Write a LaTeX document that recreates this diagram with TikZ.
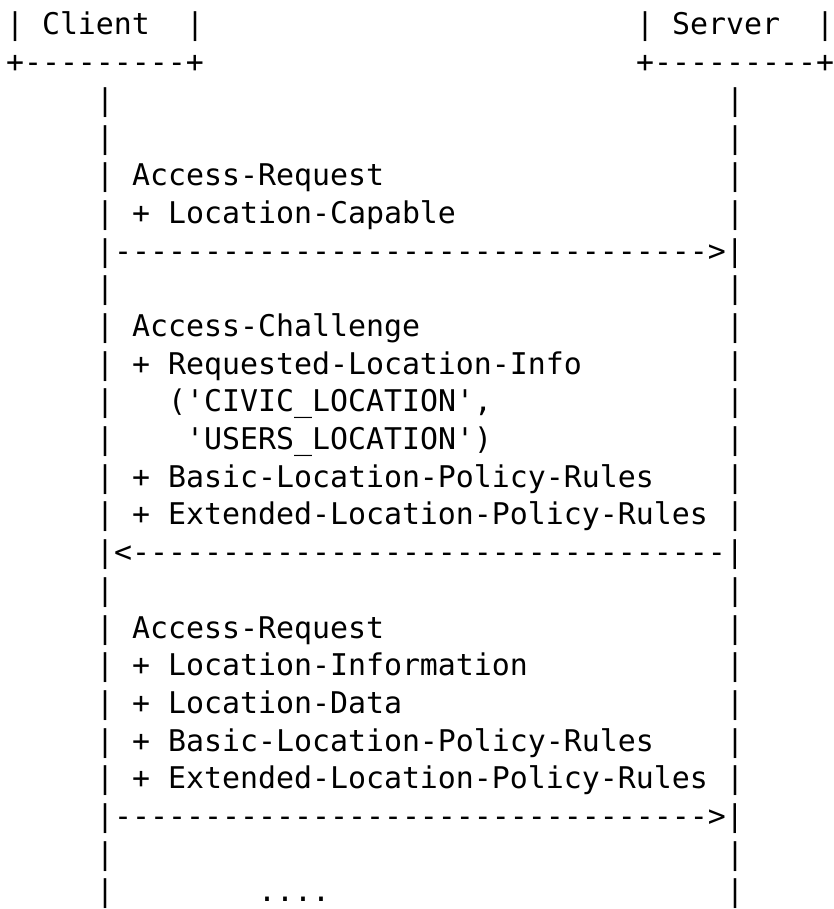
\documentclass[tikz,border=0pt]{standalone}
\usepackage{fontspec}
\setmonofont{DejaVu Sans Mono}
\tikzset{
  asc/.style={anchor=base west, inner sep=0pt, outer sep=0pt, text=black,
              font=\ttfamily\fontsize{29.9}{37.69}\selectfont}
}
% #1 name, #2 row, #3 column, #4 text
\newcommand\ascline[4]{\node[asc] (#1) at ({6+18*#3},{35+37.69*(#2-1)}) {#4};}
\begin{document}
\begin{tikzpicture}[x=1pt,y=-1pt]
\useasboundingbox[fill=white] (0,0) rectangle (834,909);
% header boxes
\ascline{cl1}{1}{0}{| Client}
\ascline{cl2}{1}{10}{|}
\ascline{sv1}{1}{35}{| Server}
\ascline{sv2}{1}{45}{|}
\ascline{clb}{2}{0}{+---------+}
\ascline{svb}{2}{35}{+---------+}
% rows 3-4
\ascline{l3}{3}{5}{|}\ascline{r3}{3}{40}{|}
\ascline{l4}{4}{5}{|}\ascline{r4}{4}{40}{|}
% first message
\ascline{l5}{5}{5}{| Access-Request}\ascline{r5}{5}{40}{|}
\ascline{l6}{6}{5}{| + Location-Capable}\ascline{r6}{6}{40}{|}
\ascline{a7}{7}{5}{|--------------------------------->|}
\ascline{l8}{8}{5}{|}\ascline{r8}{8}{40}{|}
% second message
\ascline{l9}{9}{5}{| Access-Challenge}\ascline{r9}{9}{40}{|}
\ascline{l10}{10}{5}{| + Requested-Location-Info}\ascline{r10}{10}{40}{|}
\ascline{l11}{11}{5}{|}\ascline{t11}{11}{9}{('CIVIC\_LOCATION',}\ascline{r11}{11}{40}{|}
\ascline{l12}{12}{5}{|}\ascline{t12}{12}{10}{'USERS\_LOCATION')}\ascline{r12}{12}{40}{|}
\ascline{l13}{13}{5}{| + Basic-Location-Policy-Rules}\ascline{r13}{13}{40}{|}
\ascline{l14}{14}{5}{| + Extended-Location-Policy-Rules}\ascline{r14}{14}{40}{|}
\ascline{a15}{15}{5}{|<---------------------------------|}
\ascline{l16}{16}{5}{|}\ascline{r16}{16}{40}{|}
% third message
\ascline{l17}{17}{5}{| Access-Request}\ascline{r17}{17}{40}{|}
\ascline{l18}{18}{5}{| + Location-Information}\ascline{r18}{18}{40}{|}
\ascline{l19}{19}{5}{| + Location-Data}\ascline{r19}{19}{40}{|}
\ascline{l20}{20}{5}{| + Basic-Location-Policy-Rules}\ascline{r20}{20}{40}{|}
\ascline{l21}{21}{5}{| + Extended-Location-Policy-Rules}\ascline{r21}{21}{40}{|}
\ascline{a22}{22}{5}{|--------------------------------->|}
\ascline{l23}{23}{5}{|}\ascline{r23}{23}{40}{|}
\ascline{l24}{24}{5}{|}\ascline{t24}{24}{14}{....}\ascline{r24}{24}{40}{|}
\end{tikzpicture}
\end{document}
